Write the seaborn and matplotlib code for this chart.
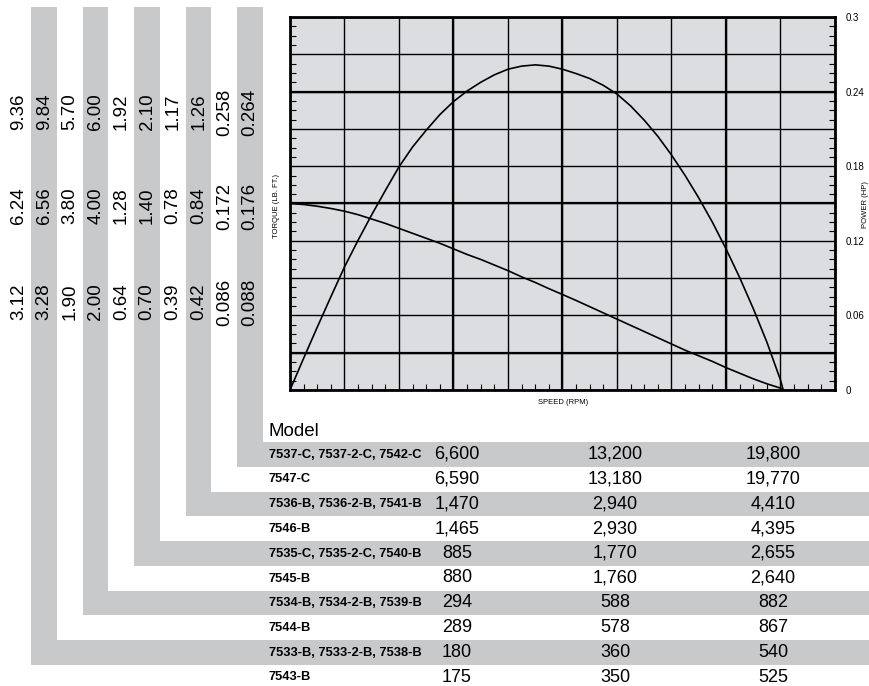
import numpy as np
import pandas as pd
import seaborn as sns
import matplotlib.pyplot as plt
from matplotlib.patches import Rectangle

# Torque labels of each strip, left to right (low, mid, high)
torque_cols = [
    ["3.12", "6.24", "9.36"],
    ["3.28", "6.56", "9.84"],
    ["1.90", "3.80", "5.70"],
    ["2.00", "4.00", "6.00"],
    ["0.64", "1.28", "1.92"],
    ["0.70", "1.40", "2.10"],
    ["0.39", "0.78", "1.17"],
    ["0.42", "0.84", "1.26"],
    ["0.086", "0.172", "0.258"],
    ["0.088", "0.176", "0.264"],
]

# Table rows, top to bottom
models = ["7537-C, 7537-2-C, 7542-C", "7547-C",
          "7536-B, 7536-2-B, 7541-B", "7546-B",
          "7535-C, 7535-2-C, 7540-B", "7545-B",
          "7534-B, 7534-2-B, 7539-B", "7544-B",
          "7533-B, 7533-2-B, 7538-B", "7543-B"]
speed_low = ["6,600", "6,590", "1,470", "1,465", "885", "880", "294", "289", "180", "175"]
speed_mid = ["13,200", "13,180", "2,940", "2,930", "1,770", "1,760", "588", "578", "360", "350"]
speed_high = ["19,800", "19,770", "4,410", "4,395", "2,655", "2,640", "882", "867", "540", "525"]

# Curves (speed as fraction of full scale)
speed_frac = [0, 0.025, 0.05, 0.075, 0.1, 0.125, 0.15, 0.175, 0.2, 0.225,
              0.25, 0.275, 0.3, 0.325, 0.35, 0.375, 0.4, 0.425, 0.45, 0.475,
              0.5, 0.525, 0.55, 0.575, 0.6, 0.625, 0.65, 0.675, 0.7, 0.725,
              0.75, 0.775, 0.8, 0.825, 0.85, 0.875, 0.9, 0.905]
power_hp = [0, 0.0255, 0.0505, 0.075, 0.099, 0.1205, 0.141, 0.1605, 0.1795, 0.1955,
            0.209, 0.2215, 0.232, 0.2405, 0.2475, 0.2535, 0.258, 0.2605, 0.2615, 0.2605,
            0.258, 0.2545, 0.2505, 0.245, 0.238, 0.2285, 0.217, 0.204, 0.189, 0.1725,
            0.1545, 0.135, 0.1135, 0.0905, 0.0655, 0.0385, 0.008, 0]
torque_rel = [0.150, 0.1492, 0.1478, 0.146, 0.1438, 0.141, 0.1375, 0.134, 0.130, 0.126,
              0.122, 0.118, 0.1135, 0.109, 0.105, 0.1005, 0.096, 0.091, 0.0865, 0.0815,
              0.0768, 0.072, 0.067, 0.062, 0.057, 0.052, 0.047, 0.042, 0.037, 0.032,
              0.0275, 0.023, 0.018, 0.0135, 0.009, 0.005, 0.0015, 0]

power_ticks = [0, 0.06, 0.12, 0.18, 0.24, 0.3]
power_labels = ["0", "0.06", "0.12", "0.18", "0.24", "0.3"]

sns.set_theme(style="white")
plt.rcParams['font.family'] = ['Liberation Sans', 'DejaVu Sans']
plt.rcParams['text.color'] = 'black'
plt.rcParams['ytick.color'] = 'black'
plt.rcParams['xtick.color'] = 'black'

W, H = 870, 686
fig = plt.figure(figsize=(W / 100, H / 100), dpi=100)

gray = "#c8c9cb"

# background layer in pixel coordinates
bg = fig.add_axes([0, 0, 1, 1], zorder=0)
bg.set_xlim(0, W)
bg.set_ylim(H, 0)
bg.axis("off")

col_w = 25.75
row_top0, row_step, row_h = 442, 24.75, 24.5
for r, model in enumerate(models):
    c = 9 - r
    x0 = 5.5 + col_w * c
    y_top = row_top0 + row_step * r
    yc = y_top + row_h / 2
    if r % 2 == 0:
        bg.add_patch(Rectangle((x0, 7), col_w, y_top + row_h - 7, color=gray, lw=0))
        bg.add_patch(Rectangle((x0, y_top), W - x0, row_h, color=gray, lw=0))
    bg.text(269, yc + 0.5, model, fontsize=9.3, fontweight="bold", va="center", ha="left")
    for xc, val in zip([457, 615, 773], [speed_low[r], speed_mid[r], speed_high[r]]):
        bg.text(xc, yc, val, fontsize=13, va="center", ha="center")

bg.text(269, 431, "Model", fontsize=13.5, va="center", ha="left")

for c, vals in enumerate(torque_cols):
    xc = 18.5 + col_w * c
    for val, yc in zip(vals, [302, 206, 112]):
        bg.text(xc, yc, val, fontsize=13.5, rotation=90, ha="center", va="center")

# the chart itself
ax = fig.add_axes([290 / W, 1 - 390 / H, 545 / W, 373 / H], zorder=1)
ax.set_facecolor("#dcdde0")
sns.lineplot(x=speed_frac, y=power_hp, ax=ax, color="black", lw=1.2)
sns.lineplot(x=speed_frac, y=torque_rel, ax=ax, color="black", lw=1.2)
ax.set_xlim(0, 1)
ax.set_ylim(0, 0.3)

ax.set_xticks(np.arange(0, 1.01, 0.1))
ax.set_xticks(np.arange(0, 1.01, 0.025), minor=True)
ax.set_yticks(np.arange(0, 0.301, 0.03))
ax.set_yticks(np.arange(0, 0.301, 0.0075), minor=True)
ax.set_yticklabels([power_labels[power_ticks.index(round(t, 2))] if round(t, 2) in power_ticks else ""
                    for t in np.arange(0, 0.301, 0.03)])
ax.grid(True, which="major", color="black", lw=1.0)
for v in [0.03, 0.15, 0.24]:
    ax.axhline(v, color="black", lw=1.6)
for v in [0.3, 0.5, 0.8]:
    ax.axvline(v, color="black", lw=1.6)

ax.tick_params(which="both", direction="in", length=4, width=0.8, color="black",
               bottom=True, top=False, left=True, right=True,
               labelbottom=False, labelleft=False, labelright=True,
               labelsize=7, pad=8)
ax.tick_params(which="major", length=0)
for s in ax.spines.values():
    s.set_color("black")
    s.set_linewidth(2)

fig.text(563 / W, 1 - 403 / H, "SPEED (RPM)", fontsize=5.5, ha="center", va="center")
fig.text(276 / W, 1 - 206 / H, "TORQUE (LB. FT.)", fontsize=5.5, rotation=90,
         ha="center", va="center")
fig.text(862 / W, 1 - 205 / H, "POWER (HP)", fontsize=5.5, rotation=90,
         ha="left", va="center")

fig.savefig("out.png", dpi=100)
